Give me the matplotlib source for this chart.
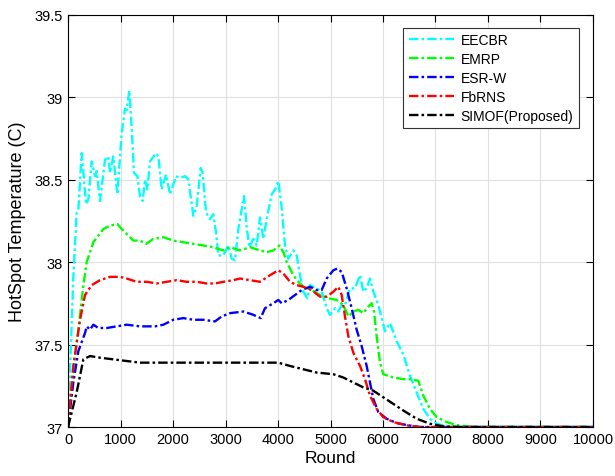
import matplotlib.pyplot as plt
import numpy as np

plt.rcParams['font.family'] = ['Liberation Sans', 'DejaVu Sans']

# EECBR (cyan)
eecbr_x = [0, 100, 165, 196, 260, 305, 343, 387, 451, 514, 546, 610, 705, 768, 800, 863, 940,
           1022, 1086, 1117, 1168, 1213, 1257, 1321, 1371, 1422, 1467, 1511, 1562, 1676, 1721,
           1784, 1867, 1943, 2057, 2133, 2229, 2292, 2387, 2451, 2527, 2565, 2629, 2705, 2768,
           2819, 2863, 2958, 3054, 3118, 3181, 3244, 3352, 3403, 3454, 3530, 3594, 3657, 3721,
           3784, 3879, 3943, 4006, 4070, 4133, 4197, 4292, 4356, 4419, 4482, 4559, 4610, 4737,
           4832, 4927, 4990, 5086, 5149, 5213, 5276, 5371, 5467, 5562, 5625, 5689, 5752, 5816,
           5911, 6038, 6133, 6260, 6387, 6514, 6641, 6768, 6895, 7022, 7213, 7500, 10000]
eecbr_y = [37.0, 37.9, 38.30, 38.31, 38.66, 38.50, 38.35, 38.38, 38.61, 38.52, 38.55, 38.37,
           38.62, 38.64, 38.54, 38.64, 38.41, 38.78, 38.93, 38.92, 39.04, 38.81, 38.54, 38.52,
           38.40, 38.37, 38.50, 38.44, 38.61, 38.66, 38.64, 38.44, 38.53, 38.41, 38.52, 38.51,
           38.52, 38.50, 38.28, 38.34, 38.57, 38.54, 38.30, 38.26, 38.29, 38.18, 38.04, 38.04,
           38.10, 38.02, 38.01, 38.20, 38.40, 38.21, 38.09, 38.14, 38.10, 38.27, 38.14, 38.26,
           38.41, 38.44, 38.49, 38.33, 38.10, 38.02, 38.07, 38.04, 37.92, 37.82, 37.78, 37.86,
           37.84, 37.82, 37.72, 37.68, 37.72, 37.70, 37.74, 37.74, 37.84, 37.84, 37.92, 37.82,
           37.84, 37.90, 37.82, 37.74, 37.58, 37.63, 37.52, 37.44, 37.31, 37.21, 37.11, 37.05,
           37.02, 37.004, 37.0, 37.0]

# EMRP (green)
emrp_x = [0, 100, 197, 292, 356, 483, 673, 800, 940, 1022, 1117, 1244, 1371, 1486, 1625, 1816,
          2006, 2197, 2387, 2578, 2768, 2958, 3086, 3276, 3467, 3657, 3784, 3911, 4025, 4102,
          4165, 4260, 4356, 4482, 4641, 4800, 4959, 5117, 5244, 5340, 5435, 5530, 5625, 5721,
          5784, 5829, 5879, 5943, 6006, 6197, 6387, 6514, 6673, 6768, 6895, 7022, 7213, 7400,
          7657, 8000, 10000]
emrp_y = [37.0, 37.35, 37.59, 37.86, 38.0, 38.12, 38.20, 38.22, 38.23, 38.20, 38.17, 38.13,
          38.13, 38.11, 38.14, 38.15, 38.13, 38.12, 38.11, 38.10, 38.09, 38.07, 38.09, 38.07,
          38.09, 38.07, 38.06, 38.07, 38.10, 38.06, 38.00, 37.94, 37.89, 37.85, 37.83, 37.80,
          37.78, 37.77, 37.74, 37.67, 37.70, 37.71, 37.69, 37.73, 37.75, 37.70, 37.55, 37.39,
          37.32, 37.30, 37.29, 37.29, 37.28, 37.19, 37.11, 37.06, 37.03, 37.012, 37.002, 37.0,
          37.0]

# ESR-W (blue)
esrw_x = [0, 101, 197, 324, 356, 419, 483, 578, 737, 927, 1117, 1371, 1657, 1816, 2006, 2197,
          2387, 2578, 2800, 2927, 3086, 3340, 3530, 3670, 3752, 3911, 4006, 4070, 4197, 4324,
          4451, 4610, 4737, 4832, 4927, 5054, 5130, 5213, 5308, 5403, 5498, 5594, 5689, 5752,
          5816, 5911, 6070, 6260, 6451, 6700, 10000]
esrw_y = [37.0, 37.27, 37.46, 37.57, 37.61, 37.59, 37.62, 37.60, 37.60, 37.61, 37.62, 37.61,
          37.61, 37.62, 37.65, 37.66, 37.65, 37.65, 37.64, 37.67, 37.69, 37.70, 37.68, 37.66,
          37.72, 37.75, 37.77, 37.75, 37.77, 37.80, 37.83, 37.85, 37.83, 37.83, 37.90, 37.95,
          37.96, 37.94, 37.84, 37.72, 37.59, 37.49, 37.37, 37.27, 37.17, 37.09, 37.05, 37.024,
          37.012, 37.0, 37.0]

# FbRNS (red)
fbrns_x = [0, 101, 229, 324, 451, 610, 800, 990, 1117, 1308, 1498, 1689, 1879, 2070, 2260,
           2451, 2641, 2800, 2958, 3149, 3276, 3467, 3657, 3848, 4006, 4102, 4229, 4356, 4482,
           4641, 4800, 4927, 5054, 5149, 5213, 5276, 5340, 5435, 5562, 5657, 5752, 5879, 6006,
           6197, 6451, 6700, 10000]
fbrns_y = [37.0, 37.37, 37.65, 37.80, 37.86, 37.89, 37.91, 37.91, 37.90, 37.88, 37.88, 37.87,
           37.88, 37.89, 37.88, 37.88, 37.87, 37.87, 37.88, 37.89, 37.90, 37.89, 37.88, 37.92,
           37.95, 37.93, 37.88, 37.86, 37.85, 37.83, 37.79, 37.79, 37.82, 37.85, 37.80, 37.67,
           37.55, 37.45, 37.37, 37.29, 37.19, 37.11, 37.06, 37.03, 37.01, 37.0, 37.0]

# SIMOF (black)
simof_x = [0, 165, 292, 419, 610, 863, 1117, 1371, 1752, 2500, 3276, 4006, 4229, 4482, 4737,
           5054, 5244, 5435, 5625, 5816, 6006, 6197, 6387, 6641, 6895, 7149, 7400, 10000]
simof_y = [37.0, 37.21, 37.41, 37.43, 37.42, 37.41, 37.40, 37.39, 37.39, 37.39, 37.39, 37.39,
           37.37, 37.35, 37.33, 37.32, 37.30, 37.27, 37.24, 37.22, 37.18, 37.14, 37.10, 37.05,
           37.02, 37.004, 37.0, 37.0]

series = [('EECBR', eecbr_x, eecbr_y, 'cyan'),
          ('EMRP', emrp_x, emrp_y, '#00ff00'),
          ('ESR-W', esrw_x, esrw_y, 'blue'),
          ('FbRNS', fbrns_x, fbrns_y, 'red'),
          ('SIMOF(Proposed)', simof_x, simof_y, 'black')]

fig = plt.figure(figsize=(6.15, 4.77), dpi=100)
ax = fig.add_axes([0.1106, 0.1027, 0.8536, 0.8648])

for name, xs, ys, col in series:
    ax.plot(xs, ys, linestyle=(0, (4, 1.3, 1.1, 1.3)), color=col, linewidth=1.7, label=name)

ax.set_xlim(0, 10000)
ax.set_ylim(37, 39.5)
ax.set_xticks(np.arange(0, 10001, 1000))
ax.set_yticks([37, 37.5, 38, 38.5, 39, 39.5])
ax.set_yticklabels(['37', '37.5', '38', '38.5', '39', '39.5'])
ax.grid(True, color='#e0e0e0', linewidth=0.8)
ax.set_axisbelow(True)
ax.tick_params(direction='in', top=True, right=True, labelsize=10.5, length=5)
for s in ax.spines.values():
    s.set_linewidth(0.8)
ax.set_xlabel('Round', fontsize=12.5, labelpad=3)
ax.set_ylabel('HotSpot Temperature (C)', fontsize=13, labelpad=6)

leg = ax.legend(loc='upper right', bbox_to_anchor=(0.9864, 0.985), fontsize=10,
                fancybox=False, edgecolor='#333333', framealpha=1,
                handlelength=3.3, handletextpad=0.45, labelspacing=0.35, borderpad=0.4)
leg.get_frame().set_linewidth(0.8)

fig.savefig('out.png', dpi=100)
